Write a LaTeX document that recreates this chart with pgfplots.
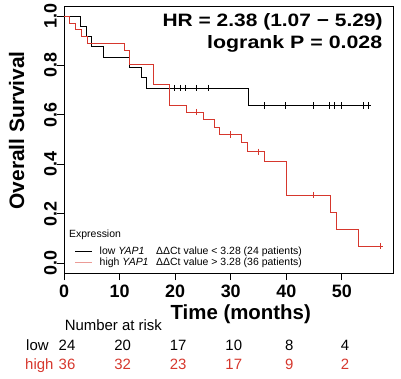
\documentclass[border=0pt]{standalone}
\usepackage{fontspec}
\setmainfont{Liberation Sans}
\usepackage{graphicx}
\usepackage{pgfplots}
\pgfplotsset{compat=1.18}
\definecolor{kmred}{RGB}{214,55,45}
\newcommand{\fs}[1]{\fontsize{#1}{#1}\selectfont}

\begin{document}
\begin{tikzpicture}[x=1bp,y=1bp]
\useasboundingbox (0,0) rectangle (401,379);
\begin{axis}[
  at={(64bp,106bp)}, anchor=south west,
  scale only axis, width=329bp, height=267bp,
  xmin=0, xmax=59.2, ymin=-0.0405, ymax=1.0405,
  axis line style={line width=0.8bp},
  tick style={line width=0.8bp, black},
  tick align=outside, major tick length=7bp,
  xtick pos=left, ytick pos=left,
  xtick={0,10,20,30,40,50}, xticklabels={0,10,20,30,40,50},
  ytick={0,0.2,0.4,0.6,0.8,1.0}, yticklabels={0.0,0.2,0.4,0.6,0.8,1.0},
  ticklabel style={font=\fs{18}\bfseries},
  xticklabel style={anchor=north, inner sep=0pt, yshift=-5bp},
  yticklabel style={rotate=90, anchor=south, inner sep=0pt},
  clip=false,
  legend cell align=left,
  legend style={draw=none, fill=none, inner sep=0pt, row sep=0pt,
    font=\fs{10.5},
    nodes={inner sep=0.5bp, text height=7.6bp, text depth=2.4bp},
    at={(axis cs:1.9,0.07)}, anchor=north west},
  legend image code/.code={\draw[#1, line width=0.9bp] (0bp,0bp) -- (17bp,0bp); \path[draw=none] (0bp,0bp) -- (24bp,0bp);},
]
\addlegendimage{black}
\addlegendentry{\makebox[56.5bp][l]{low \textit{YAP1}}ΔΔCt value < 3.28 (24 patients)}
\addlegendimage{kmred!50}
\addlegendentry{\makebox[56.5bp][l]{high \textit{YAP1}}ΔΔCt value > 3.28 (36 patients)}
% low YAP1 (black)
\addplot[black, line width=0.8bp, const plot, forget plot] coordinates {
 (0,1) (2.9,0.958) (3.95,0.917) (4.97,0.875) (7.06,0.833) (11.85,0.792)
 (13.95,0.75) (14.85,0.708) (33.1,0.637) (55.2,0.637)};
% high YAP1 (red)
\addplot[kmred, line width=0.8bp, const plot, forget plot] coordinates {
 (0,1) (0.96,0.972) (1.97,0.944) (3.05,0.917) (4.2,0.889) (10.95,0.861)
 (11.85,0.806) (16.0,0.722) (18.95,0.639) (22.0,0.611) (25.0,0.581)
 (27.0,0.551) (28.0,0.521) (31.9,0.488) (33.0,0.45) (36.1,0.412)
 (40.0,0.275) (47.9,0.203) (48.95,0.136) (53.0,0.069) (56.9,0.069)};
% censoring marks
\addplot[black, only marks, mark=+, mark size=3.2bp, line width=0.7bp, forget plot] coordinates {
 (19.9,0.708) (20.9,0.708) (21.9,0.708) (23.9,0.708) (26.0,0.708)
 (36.0,0.637) (39.9,0.637) (44.9,0.637) (47.8,0.637) (48.7,0.637)
 (49.9,0.637) (53.9,0.637) (54.7,0.637)};
\addplot[kmred, only marks, mark=+, mark size=3.2bp, line width=0.7bp, forget plot] coordinates {
 (23.9,0.611) (30.0,0.521) (35.0,0.45) (44.9,0.275) (56.9,0.069)};

% texts
\node[anchor=base east, inner sep=0pt] at (axis cs:57.37,0.959)
  {\resizebox{220bp}{\height}{\fs{18}\bfseries HR = 2.38 (1.07 − 5.29)}};
\node[anchor=base east, inner sep=0pt] at (axis cs:57.3,0.867)
  {\resizebox{175bp}{\height}{\fs{18}\bfseries logrank P = 0.028}};
\node[anchor=base west, inner sep=0pt, font=\fs{10.5}] at (axis cs:0.9,0.105) {Expression};

\node[anchor=base, inner sep=0pt, font=\fs{20.5}\bfseries] at (axis cs:31.8,-0.2275) {Time (months)};
\node[anchor=base, rotate=90, inner sep=0pt, font=\fs{21}\bfseries] at (axis cs:-7.19,0.537) {Overall Survival};

\node[anchor=base west, inner sep=0pt, font=\fs{15}] at (axis cs:0.1,-0.2747) {Number at risk};
\node[anchor=base west, inner sep=0pt, font=\fs{15}] at (axis cs:-6.83,-0.3556) {low};
\node[anchor=base west, inner sep=0pt, font=\fs{15}, text=kmred] at (axis cs:-7.01,-0.4323) {high};
\node[anchor=base, inner sep=0pt, font=\fs{15}] at (axis cs:0.55,-0.3556) {24};
\node[anchor=base, inner sep=0pt, font=\fs{15}] at (axis cs:10.55,-0.3556) {20};
\node[anchor=base, inner sep=0pt, font=\fs{15}] at (axis cs:20.55,-0.3556) {17};
\node[anchor=base, inner sep=0pt, font=\fs{15}] at (axis cs:30.55,-0.3556) {10};
\node[anchor=base, inner sep=0pt, font=\fs{15}] at (axis cs:40.55,-0.3556) {8};
\node[anchor=base, inner sep=0pt, font=\fs{15}] at (axis cs:50.55,-0.3556) {4};
\node[anchor=base, inner sep=0pt, font=\fs{15}, text=kmred] at (axis cs:0.55,-0.4323) {36};
\node[anchor=base, inner sep=0pt, font=\fs{15}, text=kmred] at (axis cs:10.55,-0.4323) {32};
\node[anchor=base, inner sep=0pt, font=\fs{15}, text=kmred] at (axis cs:20.55,-0.4323) {23};
\node[anchor=base, inner sep=0pt, font=\fs{15}, text=kmred] at (axis cs:30.55,-0.4323) {17};
\node[anchor=base, inner sep=0pt, font=\fs{15}, text=kmred] at (axis cs:40.55,-0.4323) {9};
\node[anchor=base, inner sep=0pt, font=\fs{15}, text=kmred] at (axis cs:50.55,-0.4323) {2};
\end{axis}
\end{tikzpicture}
\end{document}
